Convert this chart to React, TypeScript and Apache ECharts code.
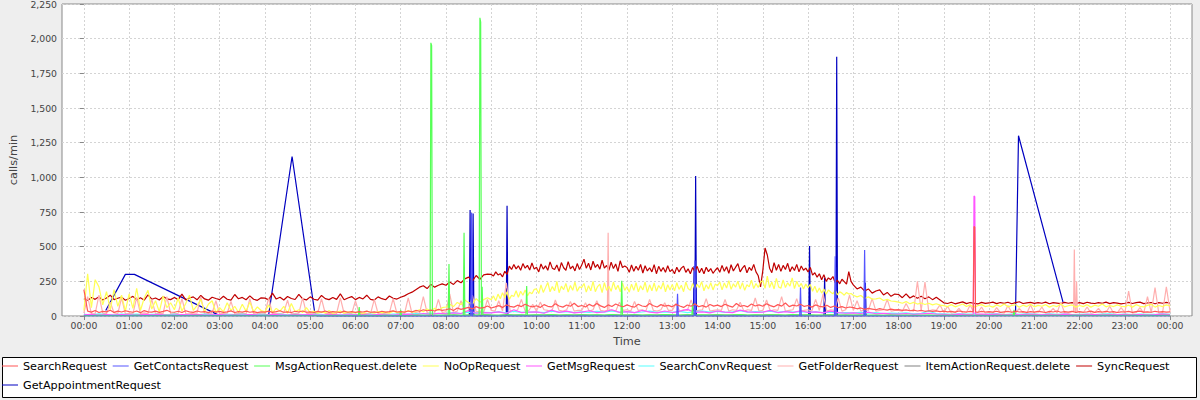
import React, { useEffect, useRef } from "react";
import * as echarts from "echarts";

// ---------- names & colours ----------
const seriesNames = [
  "SearchRequest",
  "GetContactsRequest",
  "MsgActionRequest.delete",
  "NoOpRequest",
  "GetMsgRequest",
  "SearchConvRequest",
  "GetFolderRequest",
  "ItemActionRequest.delete",
  "SyncRequest",
  "GetAppointmentRequest",
];
const seriesColors = [
  "#FF5555", "#5555FF", "#55FF55", "#FFFF55", "#FF55FF",
  "#55FFFF", "#FFAFAF", "#808080", "#C00000", "#0000C0",
];

// ---------- data: one row per hour (values spread evenly over the hour), last row = 24:00 ----------
const syncRequest = [
  [125, 112, 134, 120, 138, 116, 130, 150, 118, 128, 136, 114],
  [126, 142, 116, 131, 114, 152, 121, 130, 115, 140, 124, 118],
  [134, 118, 158, 116, 130, 138, 117, 148, 123, 114, 135, 126],
  [118, 142, 121, 115, 155, 124, 134, 117, 145, 121, 113, 131],
  [129, 116, 165, 122, 135, 115, 141, 126, 119, 156, 124, 116],
  [138, 121, 115, 148, 125, 118, 134, 120, 160, 117, 130, 140],
  [118, 134, 123, 150, 120, 115, 138, 125, 117, 144, 128, 122],
  [135, 145, 160, 172, 190, 208, 218, 198, 228, 208, 222, 232],
  [222, 245, 228, 255, 240, 268, 280, 252, 292, 265, 296, 302],
  [300, 288, 318, 296, 305, 282, 322, 300, 360, 335, 372, 340, 362, 330, 378, 345, 365, 332, 382, 338],
  [352, 318, 375, 338, 362, 330, 390, 345, 335, 368, 322, 385, 348, 330, 392, 340, 360, 325, 378, 335],
  [368, 410, 345, 380, 332, 395, 350, 372, 338, 402, 345, 365, 330, 388, 342, 375, 322, 398, 350, 360],
  [350, 315, 368, 322, 358, 330, 372, 310, 362, 325, 348, 318, 370, 305, 358, 322, 350, 315, 362, 320],
  [335, 305, 352, 318, 345, 360, 315, 340, 305, 350, 322, 358, 312, 345, 305, 352, 320, 342, 308, 330],
  [348, 315, 365, 322, 355, 308, 370, 325, 352, 378, 318, 345, 365, 312, 350, 328, 372, 318, 290, 210],
  [325, 490, 440, 345, 312, 385, 330, 372, 322, 365, 335, 380, 320, 355, 328, 372, 318, 360, 330, 345],
  [318, 350, 295, 312, 280, 305, 262, 298, 250, 275, 262, 285, 240, 258, 232, 265, 248, 230, 320, 250],
  [225, 195, 208, 180, 195, 165, 180, 188, 152, 170, 142, 158],
  [155, 132, 160, 130, 145, 128, 142, 125, 138, 118, 135, 115],
  [95, 90, 99, 88, 95, 102, 89, 97, 92, 87, 98, 91],
  [94, 100, 89, 97, 92, 99, 88, 96, 103, 90, 94, 98],
  [91, 97, 92, 100, 88, 96, 93, 89, 98, 92, 97, 90],
  [96, 89, 99, 93, 90, 97, 92, 100, 89, 96, 93, 88],
  [92, 98, 90, 96, 100, 89, 94, 97, 88, 96, 92, 98],
  [92],
];

const noOpRequest = [
  [40, 305, 60, 262, 210, 80, 175, 45, 190, 70, 150, 35],
  [160, 55, 200, 40, 130, 185, 50, 110, 30, 145, 60, 95],
  [45, 130, 35, 90, 150, 40, 75, 120, 30, 85, 110, 25],
  [60, 30, 95, 40, 70, 25, 85, 35, 100, 30, 65, 40],
  [30, 80, 25, 55, 35, 70, 20, 90, 30, 45, 25, 60],
  [25, 35, 20, 30, 22, 40, 18, 28, 35, 20, 30, 25],
  [22, 30, 18, 35, 25, 20, 32, 24, 28, 20, 35, 26],
  [30, 25, 40, 28, 35, 45, 30, 50, 38, 55, 42, 60],
  [65, 85, 68, 98, 82, 115, 96, 88, 125, 100, 118, 132],
  [118, 145, 110, 158, 125, 168, 132, 175, 120, 150, 140, 182, 135, 178, 150, 188, 145, 172, 160, 192],
  [195, 162, 225, 170, 205, 242, 175, 212, 182, 250, 168, 215, 190, 235, 172, 220, 185, 245, 178, 210],
  [205, 235, 172, 218, 182, 250, 175, 212, 230, 168, 240, 185, 215, 178, 245, 190, 222, 175, 238, 185],
  [212, 172, 230, 185, 240, 175, 218, 188, 245, 170, 225, 182, 238, 178, 220, 195, 242, 175, 225, 188],
  [228, 182, 240, 192, 222, 175, 245, 198, 185, 235, 190, 230, 205, 248, 182, 225, 195, 240, 188, 230],
  [218, 245, 188, 238, 202, 255, 192, 232, 208, 250, 195, 240, 185, 225, 210, 258, 198, 235, 205, 245],
  [255, 200, 288, 205, 245, 195, 272, 210, 200, 260, 205, 240, 215, 275, 198, 250, 210, 235, 195, 230],
  [205, 228, 178, 215, 170, 202, 165, 195, 158, 188, 172, 160, 185, 152, 175, 165, 150, 170, 158, 162],
  [150, 138, 148, 126, 138, 122, 124, 130, 112, 120, 108, 106],
  [100, 92, 104, 88, 98, 86, 94, 83, 92, 80, 88, 78],
  [75, 68, 82, 66, 76, 87, 68, 80, 64, 74, 82, 68],
  [74, 64, 80, 68, 87, 66, 76, 82, 63, 78, 68, 84],
  [66, 77, 70, 82, 64, 76, 68, 87, 66, 74, 80, 64],
  [76, 68, 82, 64, 78, 70, 87, 66, 76, 68, 80, 70],
  [68, 78, 64, 82, 70, 66, 77, 84, 64, 76, 68, 80],
  [72],
];

const getFolderRequest = [
  [20, 140, 15, 18, 150, 20, 15, 100, 22, 18, 130, 15],
  [20, 15, 135, 18, 22, 15, 120, 15, 20, 18, 140, 18],
  [15, 20, 125, 18, 15, 20, 22, 140, 15, 18, 20, 110],
  [15, 18, 20, 105, 15, 18, 20, 15, 125, 18, 22, 15],
  [18, 130, 15, 20, 18, 22, 115, 15, 18, 20, 130, 20],
  [15, 18, 20, 125, 18, 20, 15, 18, 130, 18, 22, 15],
  [110, 15, 18, 20, 15, 120, 18, 15, 20, 22, 125, 18],
  [20, 15, 130, 18, 25, 20, 140, 25, 18, 22, 120, 25],
  [30, 160, 25, 35, 110, 30, 40, 150, 30, 35, 25, 120],
  [40, 35, 110, 35, 240, 40, 30, 45, 120, 35, 40, 85],
  [35, 100, 45, 40, 30, 115, 40, 35, 45, 105, 35, 40],
  [40, 95, 35, 45, 110, 40, 35, 45, 40, 35, 100, 40],
  [45, 35, 105, 40, 45, 35, 120, 40, 35, 45, 95, 40],
  [40, 90, 35, 45, 40, 115, 35, 40, 45, 125, 35, 40],
  [45, 40, 120, 35, 45, 40, 100, 35, 45, 40, 130, 35],
  [40, 115, 35, 45, 40, 140, 35, 40, 45, 125, 35, 40],
  [45, 35, 120, 40, 160, 35, 45, 40, 130, 35, 45, 150],
  [40, 110, 35, 45, 40, 125, 35, 40, 45, 120, 35, 40],
  [40, 35, 90, 40, 35, 250, 40, 245, 35, 45, 40, 80],
  [25, 70, 20, 25, 55, 20, 25, 80, 20, 25, 65, 20],
  [25, 20, 60, 25, 20, 75, 25, 20, 55, 25, 20, 80],
  [20, 25, 65, 20, 25, 55, 20, 100, 25, 20, 30, 25],
  [30, 25, 65, 20, 25, 55, 20, 25, 70, 20, 25, 60],
  [25, 180, 20, 25, 60, 20, 140, 25, 205, 20, 25, 210],
  [30],
];
const getFolderSpikes: [string, number][] = [
  ["11:34", 40], ["11:35", 600], ["11:36", 45],
  ["21:52", 30], ["21:53", 480], ["21:54", 40], ["21:56", 250], ["21:57", 35],
];

const searchRequest = [
  [190, 35, 28, 40, 25, 33, 30, 42, 26, 35, 29, 38],
  [31, 27, 36, 24, 39, 30, 28, 35, 26, 33, 41, 29],
  [27, 34, 25, 38, 30, 26, 36, 29, 32, 24, 35, 28],
  [33, 26, 30, 37, 25, 31, 28, 35, 27, 32, 24, 30],
  [28, 35, 26, 31, 38, 27, 30, 25, 34, 29, 36, 27],
  [30, 25, 33, 28, 36, 26, 31, 29, 24, 35, 27, 32],
  [26, 32, 29, 35, 27, 30, 25, 34, 28, 31, 37, 29],
  [32, 28, 36, 30, 40, 34, 45, 38, 42, 36, 48, 40],
  [45, 52, 40, 58, 48, 55, 62, 50, 68, 57, 60, 72],
  [58, 66, 75, 62, 80, 70, 64, 78, 68, 85, 72, 66],
  [74, 62, 82, 70, 66, 88, 72, 64, 79, 70, 92, 68],
  [76, 65, 84, 70, 90, 73, 62, 80, 69, 86, 74, 67],
  [80, 70, 64, 85, 72, 68, 90, 74, 65, 82, 71, 77],
  [66, 84, 72, 62, 79, 70, 88, 67, 75, 64, 83, 71],
  [78, 68, 85, 73, 64, 90, 70, 76, 66, 86, 72, 80],
  [70, 88, 75, 66, 82, 71, 94, 68, 78, 72, 85, 69],
  [76, 64, 80, 70, 66, 78, 62, 72, 60, 68, 58, 65],
  [60, 52, 58, 48, 55, 50, 45, 53, 47, 42, 50, 44],
  [46, 40, 44, 38, 42, 36, 40, 34, 38, 33, 37, 32],
  [35, 30, 33, 28, 36, 31, 29, 34, 30, 27, 33, 29],
  [31, 28, 34, 26, 30, 33, 27, 35, 29, 31, 26, 32],
  [28, 34, 30, 25, 33, 29, 36, 27, 31, 28, 34, 26],
  [32, 27, 30, 35, 26, 31, 29, 34, 28, 32, 25, 30],
  [29, 33, 26, 31, 35, 28, 30, 27, 34, 29, 32, 28],
  [30],
];
const searchSpikes: [string, number][] = [
  ["19:39", 30], ["19:40", 645], ["19:41", 640], ["19:42", 30],
];

const getMsgRequest = [
  [8, 12, 6, 10, 7, 11], [9, 6, 12, 8, 10, 7], [6, 10, 8, 12, 7, 9],
  [11, 7, 9, 6, 10, 8], [7, 12, 9, 6, 11, 8], [10, 7, 8, 12, 6, 9],
  [8, 11, 7, 10, 9, 6], [10, 14, 9, 18, 12, 20], [15, 22, 18, 40, 20, 25],
  [22, 30, 18, 45, 25, 28], [30, 20, 42, 26, 35, 22], [28, 38, 24, 30, 45, 26],
  [32, 24, 40, 28, 22, 36], [25, 34, 48, 26, 30, 22], [36, 28, 24, 42, 30, 26],
  [28, 40, 25, 32, 24, 38], [26, 30, 22, 35, 24, 20], [22, 18, 28, 16, 20, 15],
  [14, 18, 12, 16, 20, 13], [12, 9, 14, 10, 11, 13], [10, 13, 8, 11, 9, 12],
  [11, 8, 12, 9, 13, 10], [9, 12, 10, 8, 11, 9], [12, 9, 11, 8, 10, 13],
  [10],
];
const getMsgSpikes: [string, number][] = [
  ["19:39", 11], ["19:40", 865], ["19:41", 860], ["19:42", 12],
];

const searchConvRequest = [
  [12, 8, 15, 10, 9, 13], [10, 14, 8, 12, 11, 9], [13, 9, 11, 8, 14, 10],
  [9, 12, 10, 14, 8, 11], [11, 8, 13, 9, 12, 10], [10, 13, 9, 11, 8, 12],
  [12, 9, 14, 10, 11, 13], [14, 12, 18, 15, 20, 17], [20, 25, 18, 28, 22, 26],
  [24, 30, 22, 34, 26, 29], [28, 24, 35, 27, 31, 25], [30, 26, 34, 28, 36, 27],
  [32, 25, 29, 35, 26, 30], [27, 33, 25, 31, 36, 28], [34, 26, 30, 38, 27, 32],
  [29, 35, 26, 33, 28, 31], [27, 30, 24, 28, 22, 25], [22, 26, 20, 24, 18, 21],
  [19, 22, 16, 20, 35, 17], [15, 12, 16, 13, 14, 11], [13, 15, 11, 14, 12, 16],
  [14, 11, 15, 12, 13, 10], [12, 14, 10, 13, 15, 11], [13, 10, 14, 12, 11, 15],
  [12],
];

const itemActionRequest = [
  [3, 2, 4, 3, 2, 5], [2, 3, 2, 4, 3, 2], [3, 2, 3, 2, 4, 3], [2, 4, 3, 2, 3, 2],
  [3, 2, 5, 3, 2, 3], [2, 3, 2, 4, 3, 2], [3, 2, 3, 5, 2, 3], [4, 3, 5, 4, 6, 4],
  [5, 7, 4, 6, 5, 8], [6, 5, 8, 6, 7, 5], [7, 6, 9, 5, 7, 6], [8, 6, 7, 5, 9, 6],
  [6, 8, 5, 7, 6, 9], [7, 5, 8, 6, 7, 6], [8, 6, 7, 9, 5, 7], [6, 8, 7, 5, 9, 6],
  [7, 5, 6, 8, 5, 6], [5, 6, 4, 5, 4, 6], [4, 5, 3, 4, 5, 3], [3, 4, 2, 3, 4, 3],
  [2, 3, 4, 3, 2, 3], [3, 2, 3, 4, 2, 3], [4, 3, 2, 3, 3, 2], [3, 4, 2, 3, 2, 3],
  [3],
];

const msgActionBase = [
  [3, 2, 4, 2, 3, 2], [2, 4, 3, 2, 3, 5], [3, 2, 3, 4, 2, 3], [2, 3, 5, 2, 3, 2],
  [4, 2, 3, 2, 5, 3], [2, 3, 2, 4, 3, 2], [3, 5, 2, 3, 4, 3], [4, 3, 6, 4, 5, 4],
  [6, 8, 5, 7, 6, 9], [7, 5, 9, 6, 8, 6], [8, 6, 10, 7, 9, 6], [9, 7, 8, 6, 10, 7],
  [7, 9, 6, 8, 7, 10], [8, 6, 9, 7, 8, 7], [9, 7, 8, 10, 6, 8], [7, 9, 8, 6, 10, 7],
  [8, 6, 7, 9, 6, 7], [6, 7, 5, 6, 5, 7], [5, 6, 4, 5, 6, 4], [4, 5, 3, 4, 5, 4],
  [3, 4, 5, 4, 3, 4], [4, 3, 4, 5, 3, 4], [5, 4, 3, 4, 4, 3], [4, 5, 3, 4, 3, 4],
  [4],
];
const msgActionSpikes: [string, number][] = [
  ["06:04", 3], ["06:05", 65], ["06:06", 3],
  ["06:59", 3], ["07:00", 45], ["07:01", 3],
  ["07:39", 4], ["07:40", 1970], ["07:41", 1950], ["07:42", 4],
  ["08:03", 5], ["08:04", 375], ["08:05", 5],
  ["08:23", 5], ["08:24", 600], ["08:25", 5],
  ["08:44", 6], ["08:45", 2150], ["08:46", 2120], ["08:47", 6], ["08:48", 210], ["08:49", 6],
  ["09:46", 6], ["09:47", 216], ["09:48", 6],
  ["11:52", 6], ["11:53", 255], ["11:54", 6],
  ["13:26", 6], ["13:27", 90], ["13:28", 6],
  ["20:32", 3], ["20:33", 45], ["20:34", 3],
];

const getContactsRequest: [string, number][] = [
  ["00:00", 0], ["08:33", 0], ["08:34", 745], ["08:35", 0],
  ["13:06", 0], ["13:07", 160], ["13:08", 0],
  ["13:29", 0], ["13:30", 400], ["13:31", 0],
  ["15:49", 0], ["15:50", 205], ["15:51", 0],
  ["16:35", 0], ["16:36", 430], ["16:37", 0],
  ["17:14", 0], ["17:15", 476], ["17:16", 0],
  ["24:00", 0],
];

const getAppointmentRequest: [string, number][] = [
  ["00:29", 40], ["00:55", 300], ["01:07", 300], ["02:58", 8],
  ["04:05", 10], ["04:36", 1150], ["05:06", 25], ["05:10", 0],
  ["08:31", 0], ["08:32", 765], ["08:33", 0], ["08:35", 0], ["08:36", 740], ["08:37", 0],
  ["09:20", 0], ["09:21", 795], ["09:22", 0],
  ["13:28", 0], ["13:29", 360], ["13:30", 0], ["13:31", 1010], ["13:32", 0],
  ["16:01", 0], ["16:02", 505], ["16:03", 0],
  ["16:21", 0], ["16:22", 276], ["16:23", 0],
  ["16:37", 0], ["16:38", 1870], ["16:39", 0],
  ["17:15", 0], ["17:16", 240], ["17:17", 0],
  ["20:35", 5], ["20:39", 1300], ["21:38", 100],
];

// y ticks
const yMax = 2250;
const yStep = 250;

// ---------- helpers ----------
const hhmm = (s: string) => {
  const [h, m] = s.split(":").map(Number);
  return h * 60 + m;
};
function fromRows(rows: number[][], extras: [string, number][] = []) {
  const m = new Map<number, number>();
  rows.forEach((row, h) =>
    row.forEach((v, j) => m.set(h * 60 + Math.round((j * 60) / row.length), v))
  );
  extras.forEach(([t, v]) => m.set(hhmm(t), v));
  return [...m.entries()].sort((a, b) => a[0] - b[0]);
}
const fromPairs = (p: [string, number][]) => p.map(([t, v]) => [hhmm(t), v]);

const seriesData = [
  fromRows(searchRequest, searchSpikes),
  fromPairs(getContactsRequest),
  fromRows(msgActionBase, msgActionSpikes),
  fromRows(noOpRequest),
  fromRows(getMsgRequest, getMsgSpikes),
  fromRows(searchConvRequest),
  fromRows(getFolderRequest, getFolderSpikes),
  fromRows(itemActionRequest),
  fromRows(syncRequest),
  fromPairs(getAppointmentRequest),
];

// legend layout (left of each item, row top)
const legendLayout = [
  { left: 2, top: 360.5 },
  { left: 112.7, top: 360.5 },
  { left: 254.1, top: 360.5 },
  { left: 422.8, top: 360.5 },
  { left: 526, top: 360.5 },
  { left: 638.4, top: 360.5 },
  { left: 777.5, top: 360.5 },
  { left: 904.5, top: 360.5 },
  { left: 1076.1, top: 360.5 },
  { left: 2, top: 379.5 },
];

const FONT = "DejaVu Sans";

export default function App() {
  const ref = useRef<HTMLDivElement>(null);
  useEffect(() => {
    const chart = echarts.init(ref.current!, null, { renderer: "svg" });
    const series = seriesNames
      .map((name, i) => ({
        name,
        type: "line",
        xAxisIndex: 0,
        yAxisIndex: 0,
        data: seriesData[i],
        symbol: "none",
        showSymbol: false,
        silent: true,
        lineStyle: { width: 1.2, color: seriesColors[i] },
        itemStyle: { color: seriesColors[i] },
      }))
      .reverse();

    const splitLineStyle = { color: "#d4d4d4", type: [2, 2], width: 1 };
    const tickLabel = { fontFamily: FONT, fontSize: 9.3, color: "#444" };
    const nameStyle = { fontFamily: FONT, fontSize: 11.3, color: "#444" };

    chart.setOption({
      animation: false,
      backgroundColor: "#EEEEEE",
      textStyle: { fontFamily: FONT },
      grid: [
        {
          left: 62, right: 8, top: 4, bottom: 84,
          show: true, backgroundColor: "#ffffff", borderColor: "#888", borderWidth: 1,
          containLabel: false, outerBoundsMode: "none",
        },
        {
          left: 83.9, right: 29.9, top: 4, bottom: 84,
          show: false, containLabel: false, outerBoundsMode: "none",
        },
      ],
      xAxis: [
        { type: "value", gridIndex: 0, min: -29, max: 1469, show: false },
        {
          type: "value", gridIndex: 1, min: 0, max: 1440, interval: 60,
          axisLine: { show: false },
          axisTick: { show: true, length: 4, lineStyle: { color: "#888" } },
          axisLabel: {
            ...tickLabel, margin: 5, showMinLabel: true, showMaxLabel: true,
            formatter: (v: number) => String(Math.floor(v / 60) % 24).padStart(2, "0") + ":00",
          },
          splitLine: { show: true, lineStyle: splitLineStyle },
          name: "Time", nameLocation: "middle", nameGap: 20, nameTextStyle: nameStyle,
        },
      ],
      yAxis: [
        {
          type: "value", gridIndex: 0, min: 0, max: yMax, interval: yStep,
          axisLine: { show: false },
          axisTick: { show: true, length: 4, lineStyle: { color: "#888" } },
          axisLabel: {
            ...tickLabel, margin: 5, showMinLabel: true, showMaxLabel: true,
            formatter: (v: number) => v.toLocaleString("en-US"),
          },
          splitLine: { show: true, lineStyle: splitLineStyle },
          name: "calls/min", nameLocation: "middle", nameGap: 43.5, nameTextStyle: nameStyle,
        },
        { type: "value", gridIndex: 1, min: 0, max: 1, show: false },
      ],
      legend: seriesNames.map((name, i) => ({
        data: [{ name, icon: "rect" }],
        left: legendLayout[i].left,
        top: legendLayout[i].top,
        padding: 0,
        itemWidth: 16,
        itemHeight: 1,
        selectedMode: false,
        z: 5,
        textStyle: { fontFamily: FONT, fontSize: 11.2, color: "#000" },
      })),
      graphic: [
        {
          type: "rect",
          z: 1,
          shape: { x: 2.5, y: 357.5, width: 1194, height: 40 },
          style: { fill: "#ffffff", stroke: "#000000", lineWidth: 1 },
        },
      ],
      series,
    });
    return () => chart.dispose();
  }, []);
  return (
    <div
      ref={ref}
      style={{ position: "fixed", left: 0, top: 0, width: 1200, height: 400 }}
    />
  );
}
